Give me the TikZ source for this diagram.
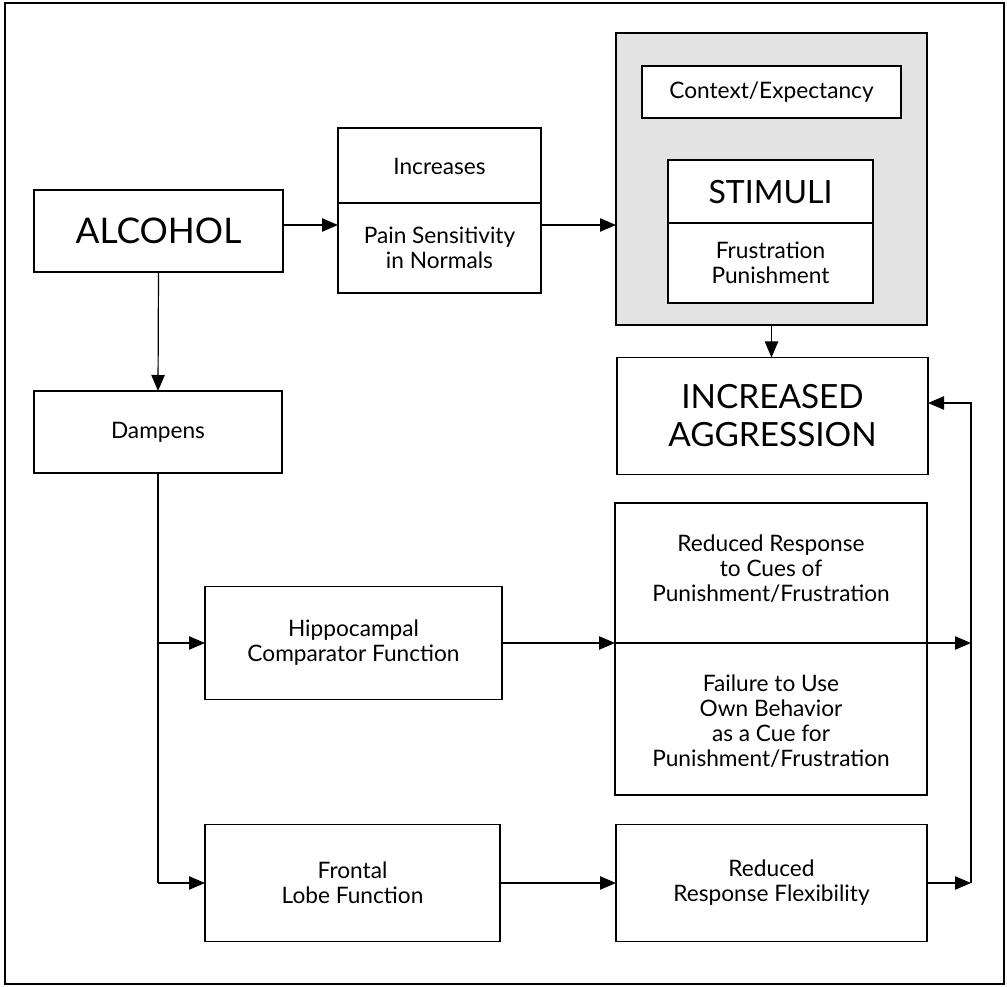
\documentclass[tikz,border=0pt]{standalone}
\usepackage{fontspec}
\setmainfont{Lato}
\usetikzlibrary{arrows.meta,calc}
\begin{document}
\begin{tikzpicture}[x=0.75pt,y=-0.75pt,
  box/.style={draw, line width=1.35pt, inner sep=0pt, outer sep=0pt, align=center,
    font=\fontsize{17}{18.8}\selectfont},
  txt/.style={inner sep=0pt, align=center, font=\fontsize{17}{18.8}\selectfont},
  bigtxt/.style={font=\fontsize{25}{28.5}\selectfont},
  conn/.style={line width=0.9pt},
  arr/.style={line width=0.9pt, -{Triangle[length=12pt,width=10pt]}}]
\useasboundingbox (0,0) rectangle (1007,987);
% outer frame
\draw[line width=0.9pt] (5,3) rectangle (1004,984);
% ALCOHOL
\node[box, font=\fontsize{26.5}{30}\selectfont, minimum width=186.75pt, minimum height=61.5pt] (alc) at (158.5,231) {ALCOHOL};
% Increases / Pain sensitivity
\node[box, minimum width=152.25pt, minimum height=123.75pt] (inc) at (439.5,210.5) {};
\draw[line width=1.35pt] (inc.west |- 0,203) -- (inc.east |- 0,203);
\node[txt] (inct) at (439.5,166) {Increases};
\node[txt] (incb) at (439.5,248) {Pain Sensitivity\\in Normals};
% shaded context box
\node[box, fill=black!11, minimum width=233.25pt, minimum height=219pt] (shade) at (771.5,179) {};
\node[box, fill=white, minimum width=194.25pt, minimum height=39pt] (ctx) at (771.5,92) {Context/Expectancy};
\node[box, fill=white, minimum width=153.75pt, minimum height=107.25pt] (stim) at (770.5,231.5) {};
\draw[line width=1.35pt] (stim.west |- 0,223) -- (stim.east |- 0,223);
\node[txt, font=\fontsize{24}{28}\selectfont] (stimt) at (770.5,192) {STIMULI};
\node[txt] (stimb) at (770.5,263) {Frustration\\Punishment};
% increased aggression
\node[box, bigtxt, minimum width=233.25pt, minimum height=87.75pt] (ia) at (772.5,416) {INCREASED\\AGGRESSION};
% Dampens
\node[box, minimum width=186pt, minimum height=61.5pt] (damp) at (158,432) {Dampens};
% Hippocampal
\node[box, minimum width=222.75pt, minimum height=84.75pt] (hip) at (353.5,643) {Hippocampal\\Comparator Function};
% Frontal
\node[box, minimum width=221.25pt, minimum height=87.75pt] (fro) at (352.5,883) {Frontal\\Lobe Function};
% Reduced response box
\node[box, minimum width=234pt, minimum height=219pt] (rr) at (771,649) {};
\node[txt] (rrt) at (771,569) {Reduced Response\\to Cues of\\Punishment/Frustration};
\node[txt] (rrb) at (771,721) {Failure to Use\\Own Behavior\\as a Cue for\\Punishment/Frustration};
% Reduced response flexibility
\node[box, minimum width=233.25pt, minimum height=87.75pt] (rrf) at (771.5,883) {Reduced\\Response Flexibility};
% coordinates
\coordinate (ya) at (0,225);
\coordinate (fbt) at (971,403);
\coordinate (fbb) at (971,883);
% connectors
\draw[arr] (alc.east |- ya) -- (inc.west |- ya);
\draw[arr] (inc.east |- ya) -- (shade.west |- ya);
\draw[arr] (shade.south) -- (shade.south |- ia.north);
\draw[arr] (alc.south) -- (damp.north);
\draw[conn] (damp.south) -- (damp.south |- fro.west);
\draw[arr] (damp.south |- hip.west) -- (hip.west);
\draw[arr] (damp.south |- fro.west) -- (fro.west);
\draw[arr] (hip.east) -- (hip.east -| rr.west);
\draw[line width=1.35pt] (hip.east -| rr.west) -- (hip.east -| rr.east);
\draw[arr] (hip.east -| rr.east) -- (hip.east -| fbt);
\draw[arr] (fro.east) -- (rrf.west);
\draw[arr] (rrf.east) -- (fbb);
\draw[arr] (fbb) -- (fbt) -- (fbt -| ia.east);
\end{tikzpicture}
\end{document}
